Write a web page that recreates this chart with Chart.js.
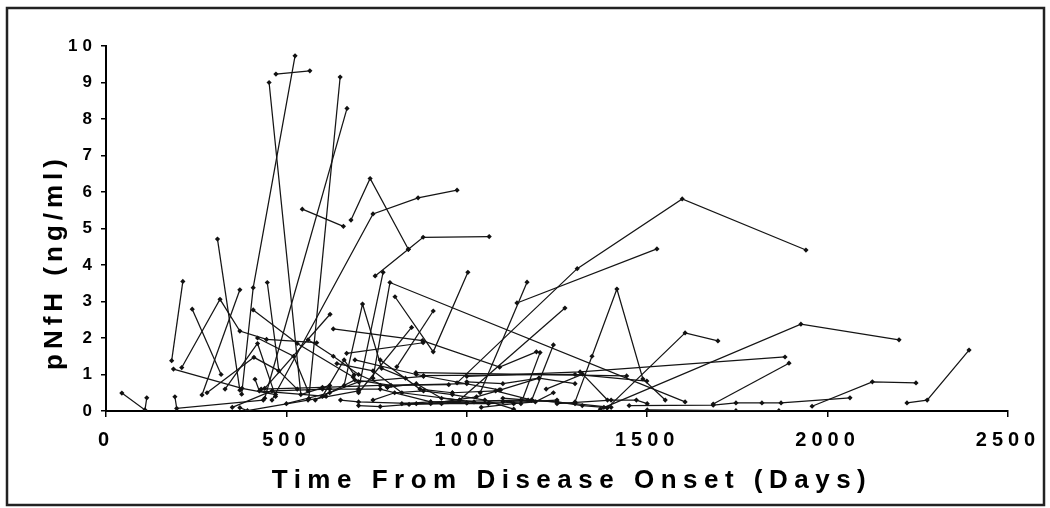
<!DOCTYPE html>
<html>
<head>
<meta charset="utf-8">
<script src="https://cdn.jsdelivr.net/npm/chart.js@4.4.1/dist/chart.umd.min.js"></script>
<style>
  html, body { margin: 0; padding: 0; background: #fff; }
  #wrap { width: 1050px; height: 508px; position: relative; }
</style>
</head>
<body>
<div id="wrap"><canvas id="myChart" width="1050" height="508"></canvas></div>
<script>
// axis ticks
var xTicks = [0, 500, 1000, 1500, 2000, 2500];
var yTicks = [0, 1, 2, 3, 4, 5, 6, 7, 8, 9, 10];

// one entry per patient: days from onset and pNfH (ng/ml)
var patientDays = [
  [44, 108, 113],
  [182, 213],
  [187, 377, 470],
  [210, 316, 371, 445, 584],
  [239, 319],
  [309, 371],
  [266, 371],
  [376, 408, 524],
  [447, 479, 530],
  [408, 530, 685],
  [452, 540, 620],
  [471, 565],
  [562, 649],
  [440, 668],
  [544, 658],
  [460, 740, 865, 973],
  [679, 732, 838],
  [746, 838, 879, 1062],
  [700, 768],
  [740, 787, 1605],
  [801, 907, 1003],
  [1037, 1167],
  [973, 1306, 1597, 1940],
  [1139, 1527],
  [980, 1272],
  [1300, 1347, 1416, 1488, 1550],
  [1389, 1605, 1696],
  [1370, 1926, 2198],
  [1000, 1314, 1882],
  [1683, 1893],
  [1450, 1683, 1746, 1818, 1871, 2062],
  [1957, 2124, 2245],
  [2220, 2276, 2392],
  [1500, 1746, 1865],
  [859, 1443],
  [880, 1300, 1499],
  [630, 877, 1091, 1193],
  [440, 621],
  [660, 711, 764, 830],
  [700, 847],
  [806, 907],
  [667, 879],
  [191, 196, 436],
  [280, 410, 479],
  [371, 392, 560, 700],
  [413, 425, 610],
  [430, 600, 760, 950],
  [500, 620, 700, 880],
  [580, 690, 790, 1000],
  [600, 760, 900, 1150],
  [650, 700, 860, 1060, 1250],
  [700, 760, 840, 930, 1000],
  [690, 860, 1090],
  [640, 740, 820, 980],
  [740, 800, 880, 960, 1050, 1130],
  [900, 1027, 1094, 1200],
  [960, 1080, 1180, 1300, 1400],
  [1040, 1130, 1190, 1240],
  [1100, 1170, 1250, 1320, 1380],
  [1150, 1203],
  [1180, 1240],
  [1220, 1321, 1390],
  [1250, 1400, 1470, 1500],
  [560, 630, 700, 780],
  [780, 860, 930, 1020],
  [420, 520, 560],
  [330, 420, 470],
  [600, 660, 688],
  [350, 460, 620],
  [820, 900, 1000, 1100, 1180],
  [1000, 1100, 1200, 1300],
  [760, 870, 960]
];

var patientPnfh = [
  [0.49, 0.03, 0.36],
  [1.38, 3.55],
  [1.15, 0.62, 0.45],
  [1.19, 3.06, 2.19, 1.96, 1.87],
  [2.79, 1.0],
  [4.71, 0.57],
  [0.44, 3.32],
  [0.46, 3.38, 9.73],
  [3.52, 1.1, 0.6],
  [2.77, 1.85, 0.93],
  [9.0, 0.45, 0.7],
  [9.23, 9.32],
  [0.34, 9.15],
  [0.35, 8.29],
  [5.53, 5.06],
  [0.3, 5.4, 5.84, 6.05],
  [5.23, 6.37, 4.43],
  [3.7, 4.43, 4.76, 4.78],
  [0.6, 3.8],
  [0.9, 3.52, 0.25],
  [3.13, 1.62, 3.8],
  [0.5, 3.53],
  [0.77, 3.9, 5.81, 4.41],
  [2.96, 4.44],
  [0.3, 2.82],
  [0.25, 1.5, 3.34, 0.88, 0.3],
  [0.08, 2.14, 1.92],
  [0.05, 2.38, 1.95],
  [0.95, 1.07, 1.48],
  [0.19, 1.31],
  [0.15, 0.16, 0.22, 0.22, 0.22, 0.36],
  [0.13, 0.8, 0.77],
  [0.22, 0.3, 1.67],
  [0.03, 0.01, 0.01],
  [1.05, 0.96],
  [0.97, 1.0, 0.82],
  [2.25, 1.93, 1.2, 1.62],
  [0.62, 2.65],
  [0.7, 2.93, 1.17, 0.9],
  [0.5, 2.29],
  [1.21, 2.74],
  [1.58, 1.87],
  [0.39, 0.07, 0.3],
  [0.5, 1.47, 1.1],
  [0.09, 0.01, 0.3, 0.55],
  [0.87, 0.55, 0.4],
  [0.6, 0.65, 0.7, 0.72],
  [0.2, 0.5, 0.8, 0.95],
  [0.3, 0.85, 0.7, 0.75],
  [0.6, 0.6, 0.25, 0.3],
  [0.3, 0.25, 0.2, 0.2, 0.3],
  [0.15, 0.12, 0.18, 0.2, 0.22],
  [1.4, 1.0, 0.58],
  [1.3, 1.1, 0.5, 0.3],
  [0.3, 0.5, 0.55, 0.45, 0.3, 0.05],
  [0.2, 0.39, 0.58, 0.9],
  [0.5, 0.55, 0.3, 0.2, 0.1],
  [0.1, 0.2, 0.25, 0.5],
  [0.35, 0.3, 0.25, 0.15, 0.1],
  [0.2, 1.6],
  [0.3, 1.81],
  [0.6, 1.01, 0.3],
  [0.2, 0.3, 0.3, 0.2],
  [1.95, 1.5, 1.0, 0.65],
  [0.65, 0.75, 0.35, 0.25],
  [2.0, 1.5, 0.55],
  [0.6, 1.85, 0.4],
  [0.4, 1.4, 0.99],
  [0.1, 0.55, 0.6],
  [0.2, 0.25, 0.22, 0.25, 0.3],
  [0.8, 0.75, 0.9, 0.75],
  [1.4, 0.6, 0.5]
];

var FONT = "'Liberation Sans', Arial, sans-serif";

var datasets = patientDays.map(function(days, i) {
  return {
    data: days.map(function(d, j) { return { x: d, y: patientPnfh[i][j] }; }),
    borderColor: '#141414',
    borderWidth: 1.25,
    pointRadius: 2.6,
    pointStyle: 'rectRot',
    pointBackgroundColor: '#111',
    pointBorderColor: '#111',
    pointBorderWidth: 0,
    tension: 0
  };
});

// frame, letter spacing and axis titles
var decor = {
  id: 'decor',
  beforeDraw: function(chart) {
    chart.ctx.letterSpacing = '5px';
  },
  afterDraw: function(chart) {
    var ctx = chart.ctx;
    ctx.save();
    ctx.letterSpacing = '0px';
    ctx.strokeStyle = '#222';
    ctx.lineWidth = 2.5;
    ctx.strokeRect(7, 8, 1037, 497);

    ctx.fillStyle = '#000';
    ctx.font = 'bold 26px ' + FONT;
    ctx.letterSpacing = '6.5px';
    ctx.textAlign = 'center';
    ctx.textBaseline = 'middle';
    ctx.fillText('Time From Disease Onset (Days)', 572, 481);

    ctx.translate(55, 262);
    ctx.rotate(-Math.PI / 2);
    ctx.letterSpacing = '5px';
    ctx.fillText('pNfH (ng/ml)', 0, 0);
    ctx.restore();
  }
};

new Chart(document.getElementById('myChart').getContext('2d'), {
  type: 'line',
  data: { datasets: datasets },
  plugins: [decor],
  options: {
    responsive: false,
    animation: false,
    events: [],
    layout: { padding: { top: 46, right: 42, left: 0, bottom: 0 } },
    plugins: { legend: { display: false }, tooltip: { enabled: false } },
    scales: {
      x: {
        type: 'linear',
        min: 0,
        max: 2500,
        afterBuildTicks: function(s) { s.ticks = xTicks.map(function(v) { return { value: v }; }); },
        afterFit: function(s) { s.height = 97; },
        grid: { drawOnChartArea: false, tickLength: 6, color: '#000', lineWidth: 1.5 },
        border: { color: '#000', width: 2 },
        ticks: { autoSkip: false, maxRotation: 0, color: '#000', padding: 11,
                 callback: function(v) { return String(v); },
                 font: { family: FONT, size: 20, weight: 'bold' } }
      },
      y: {
        type: 'linear',
        min: 0,
        max: 10,
        afterBuildTicks: function(s) { s.ticks = yTicks.map(function(v) { return { value: v }; }); },
        afterFit: function(s) { s.width = 106; },
        grid: { drawOnChartArea: false, tickLength: 5, color: '#000', lineWidth: 1.5 },
        border: { color: '#000', width: 2 },
        ticks: { autoSkip: false, color: '#000', padding: 4,
                 callback: function(v) { return String(v); },
                 font: { family: FONT, size: 17, weight: 'bold' } }
      }
    }
  }
});
</script>
</body>
</html>
